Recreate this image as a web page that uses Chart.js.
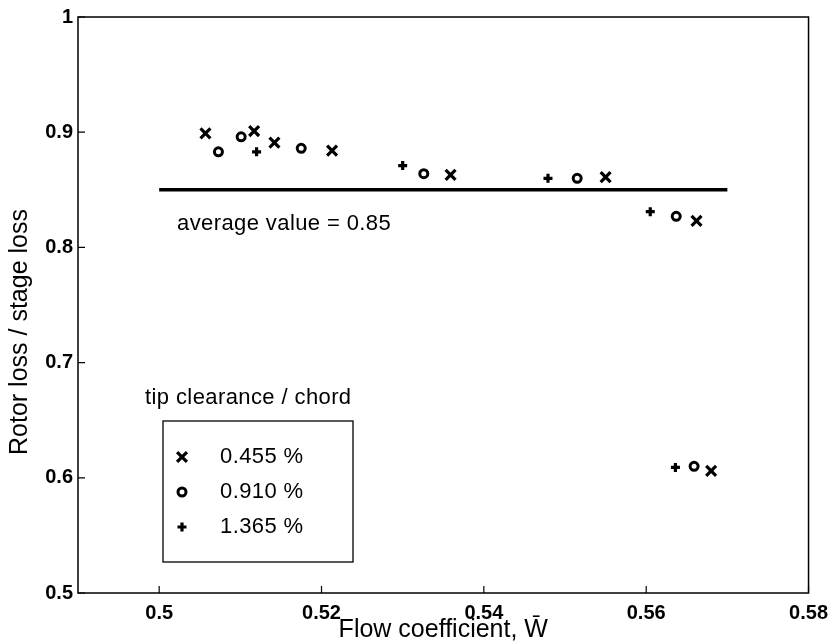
<!DOCTYPE html>
<html>
<head>
<meta charset="utf-8">
<script src="https://cdn.jsdelivr.net/npm/chart.js@4.4.1/dist/chart.umd.min.js"></script>
<style>
  html, body { margin: 0; padding: 0; background: #fff; }
</style>
</head>
<body>
<canvas id="grafico" width="836" height="644"></canvas>
<script>
// datos
var xTicks = [0.5, 0.52, 0.54, 0.56, 0.58];
var yTicks = [0.5, 0.6, 0.7, 0.8, 0.9, 1];
var series = ['0.455 %', '0.910 %', '1.365 %'];

var x455 = [0.5057, 0.5117, 0.5142, 0.5213, 0.5359, 0.5550, 0.5662, 0.5680];
var y455 = [0.899, 0.901, 0.891, 0.884, 0.863, 0.861, 0.823, 0.606];
var x910 = [0.5073, 0.5101, 0.5175, 0.5326, 0.5515, 0.5637, 0.5659];
var y910 = [0.883, 0.896, 0.886, 0.864, 0.860, 0.827, 0.610];
var x1365 = [0.5120, 0.5300, 0.5479, 0.5605, 0.5636];
var y1365 = [0.883, 0.871, 0.860, 0.831, 0.609];

var avgX = [0.5, 0.57];
var avgY = 0.85;
var avgText = 'average value = 0.85';

function puntos(xs, ys) {
  var out = [];
  for (var i = 0; i < xs.length; i++) {
    out.push({x: xs[i], y: ys[i]});
  }
  return out;
}

var estilos = [
  {pointStyle: 'crossRot', radius: 7, borderWidth: 3.2},
  {pointStyle: 'circle', radius: 4, borderWidth: 3},
  {pointStyle: 'cross', radius: 4.5, borderWidth: 3.2}
];

var fuente = '"Liberation Sans", Arial, Helvetica, sans-serif';

// marco, ticks hacia adentro, texto del promedio y leyenda
var marco = {
  id: 'marco',
  afterDraw: function(chart) {
    var ctx = chart.ctx;
    var a = chart.chartArea;
    var xs = chart.scales.x, ys = chart.scales.y;
    ctx.save();
    ctx.strokeStyle = '#000';
    ctx.lineWidth = 1.5;
    ctx.strokeRect(a.left, a.top, a.right - a.left, a.bottom - a.top);
    ctx.lineWidth = 1.2;
    ctx.beginPath();
    xTicks.forEach(function(v) {
      var px = xs.getPixelForValue(v);
      ctx.moveTo(px, a.bottom); ctx.lineTo(px, a.bottom - 7);
    });
    yTicks.forEach(function(v) {
      var py = ys.getPixelForValue(v);
      ctx.moveTo(a.left, py); ctx.lineTo(a.left + 7, py);
    });
    ctx.stroke();

    // titulo del eje y
    ctx.fillStyle = '#000';
    ctx.save();
    ctx.translate(20, 332);
    ctx.rotate(-Math.PI / 2);
    ctx.font = '25px ' + fuente;
    ctx.textAlign = 'center';
    ctx.textBaseline = 'middle';
    ctx.fillText('Rotor loss / stage loss', 0, 0);
    ctx.restore();

    // texto del valor promedio
    ctx.font = '22px ' + fuente;
    ctx.letterSpacing = '0.4px';
    ctx.textBaseline = 'middle';
    ctx.textAlign = 'left';
    ctx.fillText(avgText, xs.getPixelForValue(0.5022), ys.getPixelForValue(0.820));

    // leyenda
    var lx = 163, ly = 421, lw = 190, lh = 141;
    ctx.fillText('tip clearance / chord', 145, 398);
    ctx.fillStyle = '#fff';
    ctx.fillRect(lx, ly, lw, lh);
    ctx.lineWidth = 1.3;
    ctx.strokeRect(lx, ly, lw, lh);
    for (var i = 0; i < series.length; i++) {
      var yy = 457 + i * 35;
      ctx.strokeStyle = '#000';
      ctx.fillStyle = 'rgba(0,0,0,0)';
      ctx.lineWidth = estilos[i].borderWidth;
      Chart.helpers.drawPoint(ctx, {
        pointStyle: estilos[i].pointStyle,
        radius: estilos[i].radius,
        rotation: 0,
        borderWidth: estilos[i].borderWidth
      }, 182, yy);
      ctx.fillStyle = '#000';
      ctx.fillText(series[i], 220, yy);
    }
    ctx.restore();
  }
};

var datasets = [];
var xs = [x455, x910, x1365];
var ys = [y455, y910, y1365];
for (var i = 0; i < series.length; i++) {
  datasets.push({
    label: series[i],
    data: puntos(xs[i], ys[i]),
    pointStyle: estilos[i].pointStyle,
    pointRadius: estilos[i].radius,
    pointBorderWidth: estilos[i].borderWidth,
    pointBorderColor: '#000',
    pointBackgroundColor: 'rgba(0,0,0,0)',
    showLine: false
  });
}
datasets.push({
  label: 'promedio',
  data: [{x: avgX[0], y: avgY}, {x: avgX[1], y: avgY}],
  showLine: true,
  borderColor: '#000',
  borderWidth: 3.5,
  pointRadius: 0
});

var config = {
  type: 'scatter',
  data: { datasets: datasets },
  options: {
    responsive: false,
    animation: false,
    devicePixelRatio: 1,
    layout: { padding: { top: 14, right: 25, left: 0, bottom: 0 } },
    plugins: {
      legend: { display: false },
      tooltip: { enabled: false }
    },
    scales: {
      x: {
        type: 'linear',
        min: 0.49,
        max: 0.58,
        afterBuildTicks: function(scale) {
          scale.ticks = xTicks.map(function(v) { return {value: v}; });
        },
        afterFit: function(scale) { scale.height = 51; },
        grid: { display: false, drawTicks: false },
        border: { display: false },
        ticks: {
          color: '#000',
          padding: 8,
          maxRotation: 0,
          font: { family: fuente, size: 20, weight: 'bold' },
          callback: function(v) { return String(Math.round(v * 100) / 100); }
        },
        title: {
          display: true,
          text: 'Flow coefficient, W\u0304',
          color: '#000',
          font: { family: fuente, size: 25, lineHeight: 1.1 },
          padding: { top: 0, bottom: 0 }
        }
      },
      y: {
        type: 'linear',
        min: 0.5,
        max: 1,
        afterBuildTicks: function(scale) {
          scale.ticks = yTicks.map(function(v) { return {value: v}; });
        },
        afterFit: function(scale) { scale.width = 78; },
        grid: { display: false, drawTicks: false },
        border: { display: false },
        ticks: {
          color: '#000',
          padding: 5,
          font: { family: fuente, size: 20, weight: 'bold' },
          callback: function(v) { return String(Math.round(v * 10) / 10); }
        }
      }
    }
  },
  plugins: [marco]
};

var ctx = document.getElementById('grafico');
window.miGrafico = new Chart(ctx, config);
</script>
</body>
</html>
